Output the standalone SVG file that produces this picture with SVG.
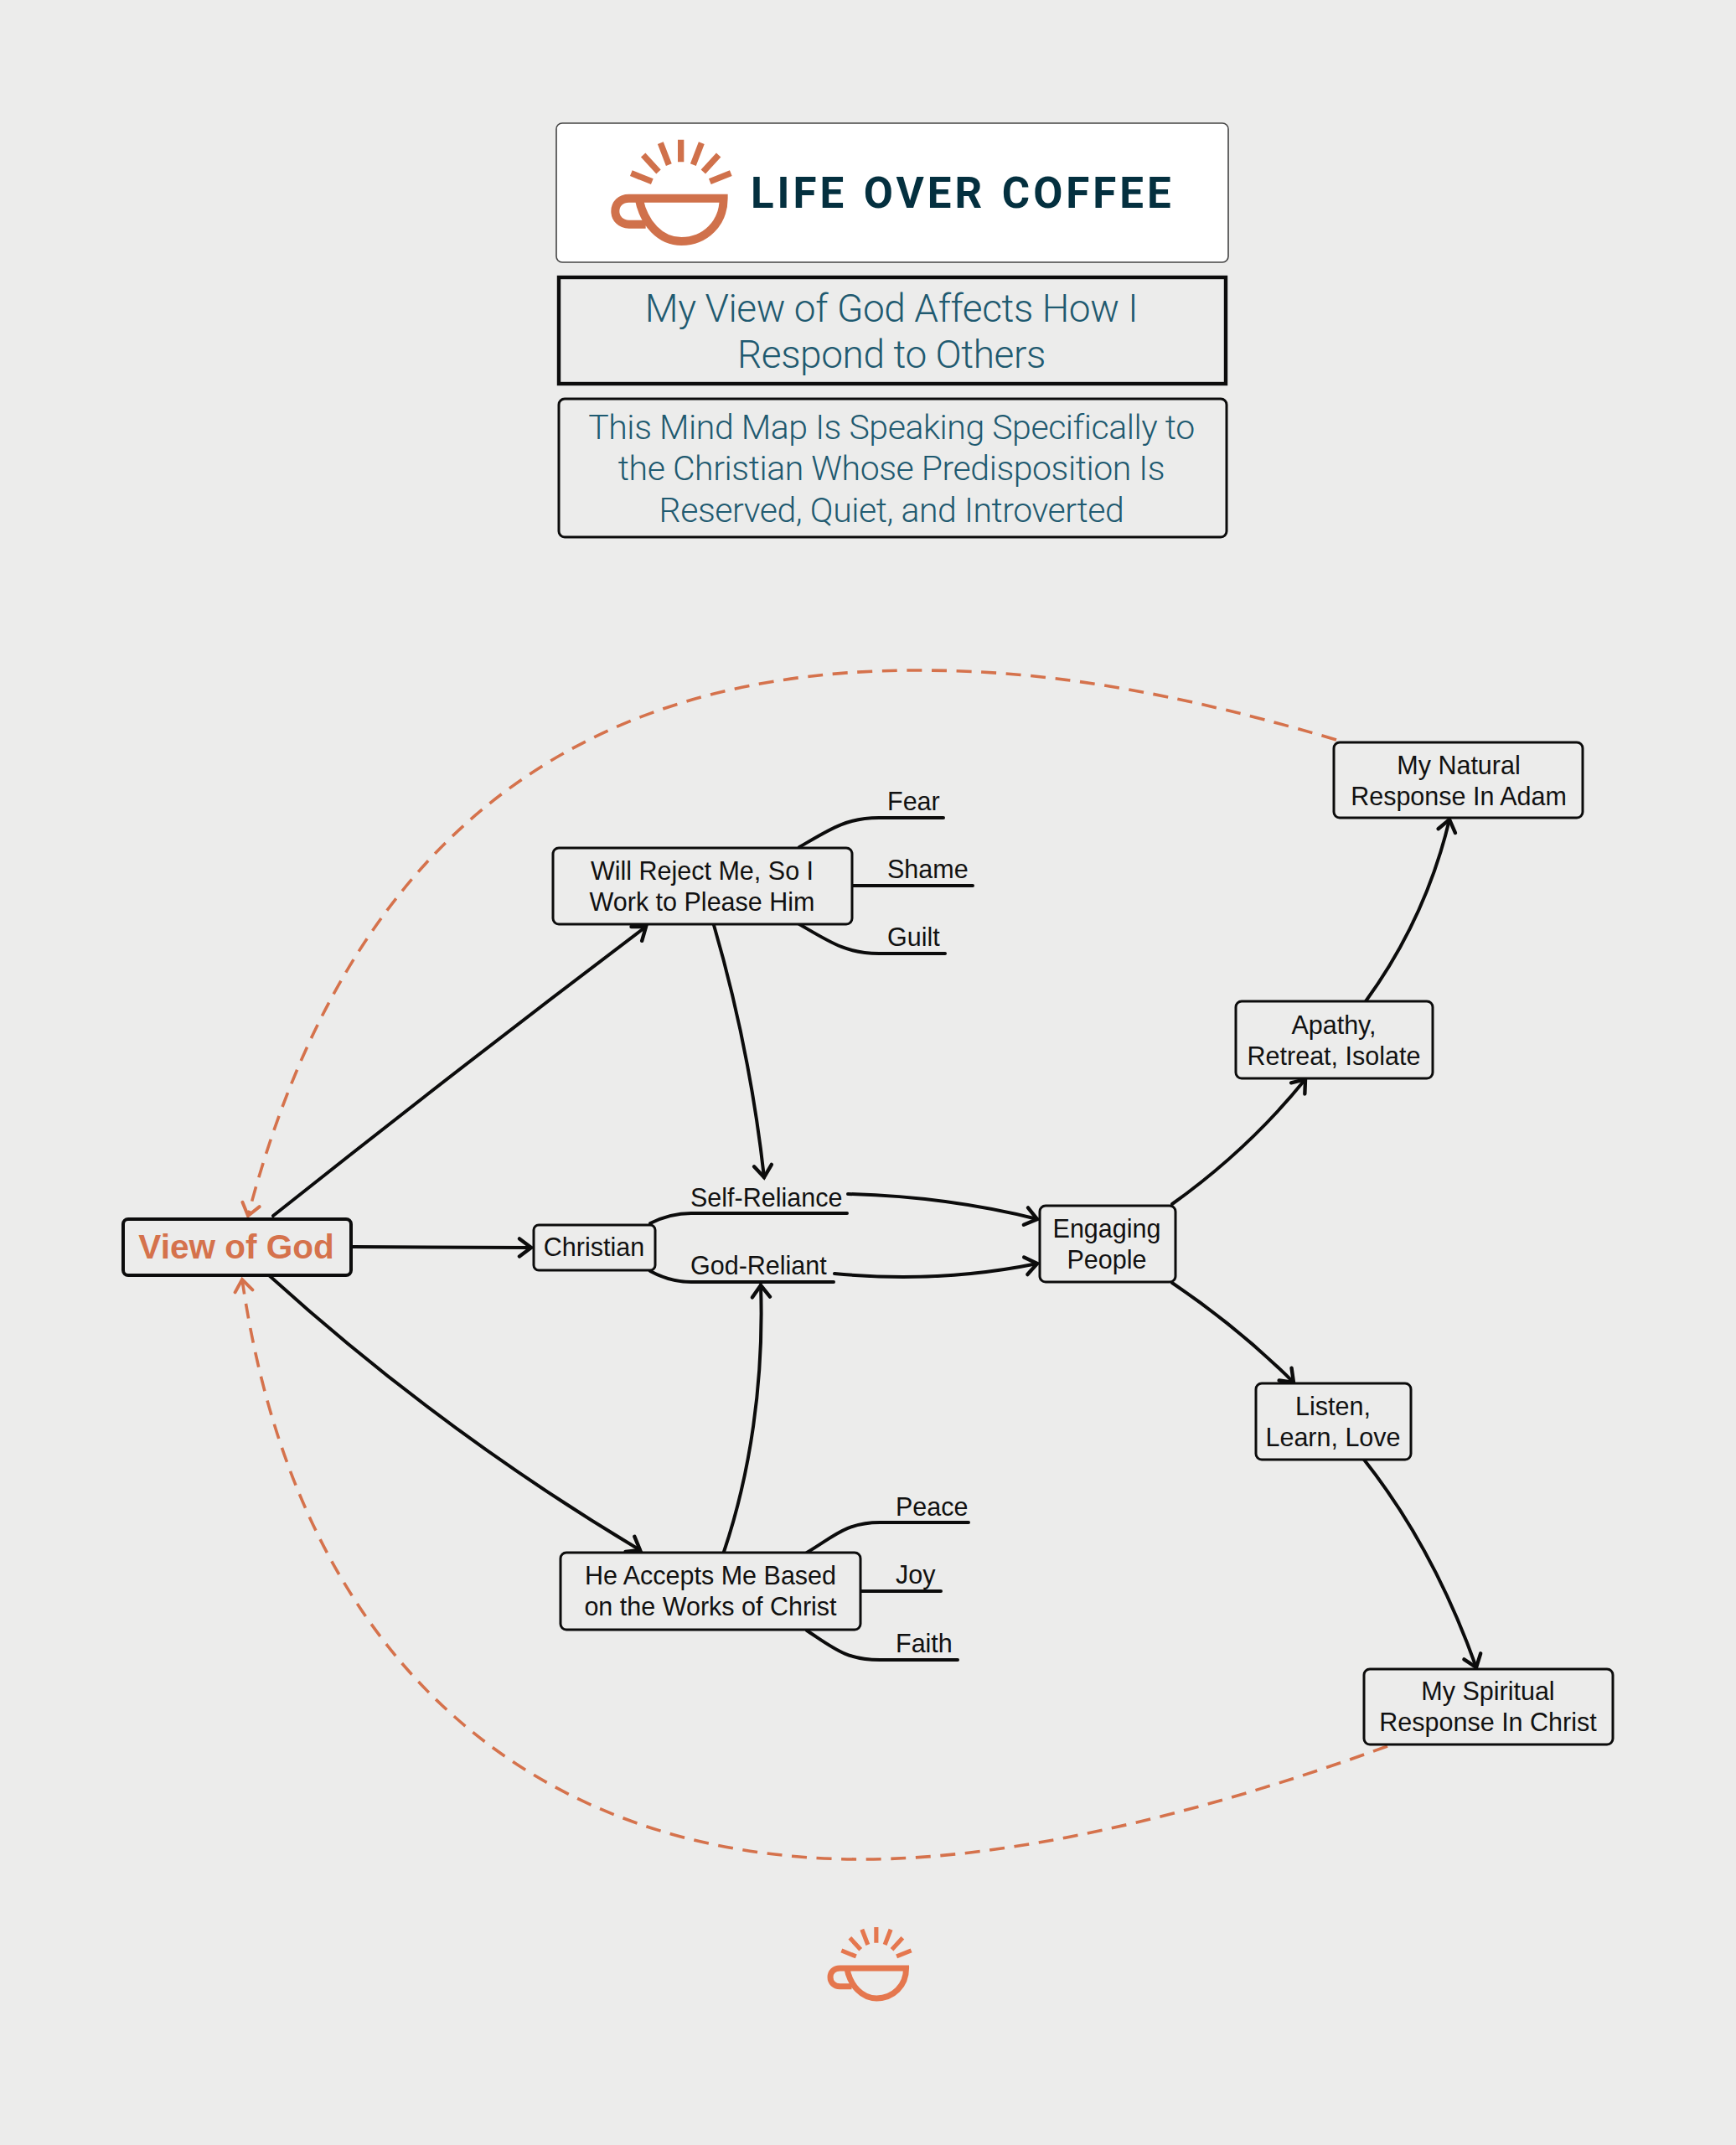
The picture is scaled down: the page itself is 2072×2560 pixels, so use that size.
<svg xmlns="http://www.w3.org/2000/svg" width="2072" height="2560" viewBox="0 0 2072 2560">
<style>
.n{fill:#ececeb;stroke:#0c0c0c;stroke-width:3}
.t{font-family:"Liberation Sans",Arial,sans-serif;font-size:30.5px;fill:#111;text-anchor:middle}
.l{font-family:"Liberation Sans",Arial,sans-serif;font-size:30.5px;fill:#111}
.h{font-family:Roboto,"Liberation Sans",sans-serif;font-weight:300;fill:#1f5a70;text-anchor:middle}
.h1{font-size:46px;letter-spacing:-.4px}
.h2{font-size:41px;letter-spacing:-.45px}
.c{fill:none;stroke:#0c0c0c;stroke-width:4;stroke-linecap:round}
.d{fill:none;stroke:#d5724c;stroke-width:3.6;stroke-dasharray:18 11.6}
.cup{fill:none;stroke-width:30;stroke-linejoin:miter}
.ray{fill:none;stroke-width:22}
</style>
<defs>
<marker id="a" markerUnits="userSpaceOnUse" markerWidth="30" markerHeight="34" refX="17" refY="15" orient="auto"><path d="M3 4.500L17 15L3 25.500" fill="none" stroke="#0c0c0c" stroke-width="4.400" stroke-linecap="round"/></marker>
<marker id="o" markerUnits="userSpaceOnUse" markerWidth="30" markerHeight="34" refX="17" refY="15" orient="auto"><path d="M3 4.500L17 15L3 25.500" fill="none" stroke="#d5724c" stroke-width="4" stroke-linecap="round"/></marker>
<g id="cup">
<path class="cup" d="M128 262C145 350 205 414 280 414C365 414 431 350 431 260H92C62 260 43 280 43 306C43 332 62 353 92 353H152"/>
<path class="ray" d="M278 50V130M205 62L235 140M143 105L198 165M100 170L175 200M352 62L322 140M413 105L358 165M457 170L382 200"/>
</g>
</defs>
<rect width="2072" height="2560" fill="#ececeb"/>
<g id="connectors">
<path class="c" marker-end="url(#a)" d="M326 1451Q546 1276 771 1106"/>
<path class="c" marker-end="url(#a)" d="M421 1488L634 1489"/>
<path class="c" marker-end="url(#a)" d="M321 1522Q526 1708 764 1850"/>
<path class="c" marker-end="url(#a)" d="M852 1104Q895 1252 912 1405"/>
<path class="c" marker-end="url(#a)" d="M864 1852C895 1760 912 1650 908 1534"/>
<path class="c" marker-end="url(#a)" d="M1012 1425Q1130 1428 1238 1455"/>
<path class="c" marker-end="url(#a)" d="M996 1520Q1120 1532 1238 1508"/>
<path class="c" marker-end="url(#a)" d="M1399 1437Q1490 1372 1558 1288"/>
<path class="c" marker-end="url(#a)" d="M1630 1195Q1702 1096 1730 978"/>
<path class="c" marker-end="url(#a)" d="M1399 1531Q1480 1586 1544 1650"/>
<path class="c" marker-end="url(#a)" d="M1628 1742Q1711 1847 1762 1990"/>
<path class="c" d="M776 1460Q800 1448 825 1448H1011"/>
<path class="c" d="M776 1517Q800 1530 825 1530H995"/>
<path class="c" d="M954 1011C990 990 1010 976 1049 976H1126"/>
<path class="c" d="M1017 1057H1161"/>
<path class="c" d="M954 1103C990 1124 1010 1138 1049 1138H1128"/>
<path class="c" d="M963 1853C995 1834 1010 1817 1050 1817H1156"/>
<path class="c" d="M1027 1899H1123"/>
<path class="c" d="M963 1946C995 1967 1010 1981 1050 1981H1143"/>
<path class="d" marker-end="url(#o)" d="M1595 883C1350 810 1200 800 1094 800C620 800 395 1075 296 1451"/>
<path class="d" marker-end="url(#o)" d="M1656 2084C1420 2170 1200 2219 1029 2219C640 2219 355 1985 289 1527"/>
</g>
<g id="logo-box">
<rect x="664" y="147" width="802" height="166" rx="7" fill="#fff" stroke="#444" stroke-width="1.6"/>
<use href="#cup" transform="translate(720 150) scale(.3333)" stroke="#d0714b"/>
<text x="896" y="247.500" font-family="Roboto,'Liberation Sans',sans-serif" font-weight="700" font-size="51" letter-spacing="4" word-spacing="3" fill="#04303f">LIFE OVER COFFEE</text>
</g>
<g id="title">
<rect x="667" y="331" width="796" height="127" fill="#ececeb" stroke="#0c0c0c" stroke-width="4.400"/>
<text class="h h1" x="1064" y="384">My View of God Affects How I</text>
<text class="h h1" x="1064" y="439">Respond to Others</text>
</g>
<g id="subtitle">
<rect x="667" y="476" width="797" height="165" rx="7" fill="#ececeb" stroke="#0c0c0c" stroke-width="3"/>
<text class="h h2" x="1064" y="524">This Mind Map Is Speaking Specifically to</text>
<text class="h h2" x="1064" y="573">the Christian Whose Predisposition Is</text>
<text class="h h2" x="1064" y="623">Reserved, Quiet, and Introverted</text>
</g>
<g id="view-of-god">
<rect x="147" y="1455" width="272" height="67" rx="6" fill="#ececeb" stroke="#0c0c0c" stroke-width="4"/>
<text x="282" y="1502" font-family="'Liberation Sans',Arial,sans-serif" font-weight="700" font-size="40.500" fill="#d5724c" text-anchor="middle">View of God</text>
</g>
<g id="christian"><rect class="n" x="637" y="1462" width="145" height="54" rx="6"/><text class="t" x="709" y="1499">Christian</text></g>
<g id="will-reject"><rect class="n" x="660" y="1012" width="357" height="91" rx="7"/><text class="t" x="838" y="1050">Will Reject Me, So I</text><text class="t" x="838" y="1087">Work to Please Him</text></g>
<g id="he-accepts"><rect class="n" x="669" y="1853" width="358" height="92" rx="7"/><text class="t" x="848" y="1891">He Accepts Me Based</text><text class="t" x="848" y="1928">on the Works of Christ</text></g>
<g id="engaging"><rect class="n" x="1241" y="1439" width="162" height="91" rx="7"/><text class="t" x="1321" y="1477">Engaging</text><text class="t" x="1321" y="1514">People</text></g>
<g id="apathy"><rect class="n" x="1475" y="1195" width="235" height="92" rx="7"/><text class="t" x="1592" y="1234">Apathy,</text><text class="t" x="1592" y="1271">Retreat, Isolate</text></g>
<g id="natural"><rect class="n" x="1592" y="886" width="297" height="90" rx="7"/><text class="t" x="1741" y="924">My Natural</text><text class="t" x="1741" y="961">Response In Adam</text></g>
<g id="listen"><rect class="n" x="1499" y="1651" width="185" height="91" rx="7"/><text class="t" x="1591" y="1689">Listen,</text><text class="t" x="1591" y="1726">Learn, Love</text></g>
<g id="spiritual"><rect class="n" x="1628" y="1992" width="297" height="90" rx="7"/><text class="t" x="1776" y="2029">My Spiritual</text><text class="t" x="1776" y="2066">Response In Christ</text></g>
<g id="labels">
<text class="l" x="1059" y="967">Fear</text><text class="l" x="1059" y="1048">Shame</text><text class="l" x="1059" y="1129">Guilt</text>
<text class="l" x="1069" y="1809">Peace</text><text class="l" x="1069" y="1890">Joy</text><text class="l" x="1069" y="1972">Faith</text>
<text class="l" x="824" y="1440">Self-Reliance</text><text class="l" x="824" y="1521">God-Reliant</text>
</g>
<use id="bottom-cup" href="#cup" transform="translate(981 2288.300) scale(.2333)" stroke="#e5774e"/>
</svg>
